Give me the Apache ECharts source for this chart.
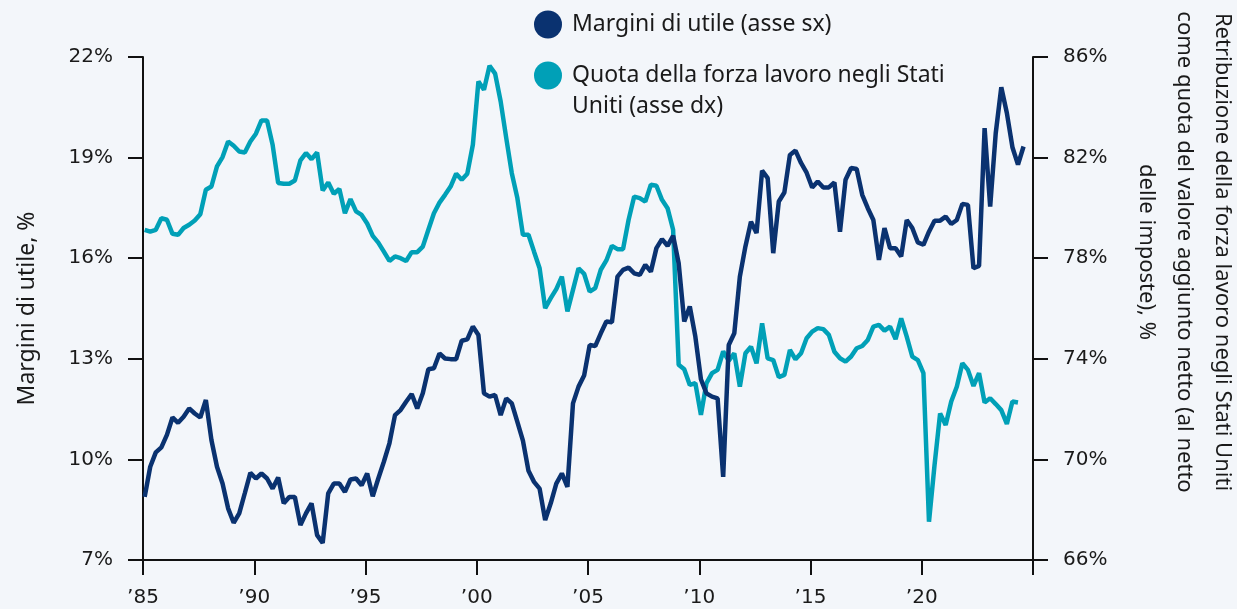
<!DOCTYPE html>
<html>
<head>
<meta charset="utf-8">
<script src="https://cdn.jsdelivr.net/npm/echarts@6/dist/echarts.min.js"></script>
<style>
  html, body { margin: 0; padding: 0; background: #f3f6fa; }
  #chart { width: 1237px; height: 609px; }
</style>
</head>
<body>
<div id="chart"></div>
<script>
// quarterly data, first point 1985 Q1
var startYear = 1985;
var xTicks = [1985, 1990, 1995, 2000, 2005, 2010, 2015, 2020, 2025];

// Margini di utile (asse sx), %
var marginValues = [
  8.88, 9.78, 10.21, 10.36,
  10.73, 11.25, 11.09, 11.27,
  11.52, 11.37, 11.25, 11.77,
  10.58, 9.78, 9.28, 8.54,
  8.11, 8.39, 8.99, 9.60,
  9.43, 9.58, 9.43, 9.13,
  9.46, 8.69, 8.88, 8.88,
  8.04, 8.39, 8.69, 7.74,
  7.51, 8.99, 9.28, 9.28,
  9.03, 9.40, 9.43, 9.23,
  9.58, 8.90, 9.43, 9.93,
  10.48, 11.32, 11.47, 11.72,
  11.95, 11.52, 11.97, 12.69,
  12.72, 13.16, 13.01, 12.99,
  12.99, 13.54, 13.58, 13.96,
  13.71, 11.97, 11.87, 11.92,
  11.32, 11.82, 11.67, 11.12,
  10.56, 9.66, 9.33, 9.13,
  8.19, 8.69, 9.28, 9.58,
  9.18, 11.67, 12.17, 12.50,
  13.41, 13.38, 13.76, 14.11,
  14.09, 15.45, 15.65, 15.72,
  15.55, 15.50, 15.80, 15.60,
  16.30, 16.57, 16.37, 16.67,
  15.85, 14.11, 14.56, 13.66,
  12.39, 11.97, 11.87, 11.82,
  9.48, 13.41, 13.76, 15.45,
  16.35, 17.09, 16.75, 18.61,
  18.39, 16.15, 17.69, 17.96,
  19.08, 19.21, 18.84, 18.55,
  18.11, 18.29, 18.11, 18.11,
  18.26, 16.79, 18.34, 18.69,
  18.66, 17.89, 17.49, 17.14,
  15.95, 16.90, 16.30, 16.30,
  16.05, 17.14, 16.90, 16.47,
  16.40, 16.79, 17.12, 17.12,
  17.24, 17.02, 17.14, 17.62,
  17.59, 15.70, 15.77, 19.88,
  17.54, 19.73, 21.10, 20.33,
  19.31, 18.79, 19.33
];

// Quota della forza lavoro negli Stati Uniti (asse dx), %
var laborValues = [
  79.13, 79.06, 79.13, 79.59,
  79.53, 78.97, 78.93, 79.20,
  79.33, 79.50, 79.75, 80.72,
  80.85, 81.65, 82.02, 82.64,
  82.47, 82.24, 82.20, 82.64,
  82.95, 83.48, 83.48, 82.51,
  80.99, 80.96, 80.96, 81.09,
  81.89, 82.18, 81.94, 82.20,
  80.69, 81.01, 80.56, 80.75,
  79.79, 80.35, 79.86, 79.72,
  79.38, 78.89, 78.62, 78.26,
  77.89, 78.07, 78.00, 77.89,
  78.24, 78.24, 78.46, 79.13,
  79.79, 80.21, 80.52, 80.85,
  81.36, 81.12, 81.36, 82.51,
  85.03, 84.70, 85.65, 85.34,
  84.23, 82.78, 81.38, 80.39,
  78.93, 78.93, 78.26, 77.60,
  76.01, 76.41, 76.77, 77.27,
  75.88, 76.74, 77.60, 77.38,
  76.67, 76.81, 77.54, 77.91,
  78.49, 78.36, 78.36, 79.53,
  80.45, 80.39, 80.25, 80.92,
  80.88, 80.32, 79.99, 79.13,
  73.76, 73.58, 72.96, 73.03,
  71.77, 73.03, 73.43, 73.56,
  74.29, 73.93, 74.22, 72.89,
  74.22, 74.48, 73.82, 75.41,
  74.02, 73.95, 73.27, 73.36,
  74.35, 73.98, 74.22, 74.82,
  75.08, 75.22, 75.18, 74.95,
  74.28, 74.02, 73.89, 74.09,
  74.42, 74.51, 74.75, 75.28,
  75.35, 75.12, 75.28, 74.78,
  75.61, 74.88, 74.09, 73.95,
  73.43, 67.52, 69.78, 71.83,
  71.37, 72.30, 72.89, 73.82,
  73.56, 72.92, 73.43, 72.26,
  72.43, 72.20, 71.96, 71.41,
  72.30, 72.26
];

var marginName = 'Margini di utile (asse sx)';
var laborName = 'Quota della forza lavoro negli Stati Uniti (asse dx)';

// points sit a little into each quarter
function toPoints(values) {
  return values.map(function (v, i) { return [startYear + (i + 0.3) / 4, v]; });
}

var navy = '#0a3270';
var teal = '#00a0b7';
var ink = '#1a1a1a';
var tickFont = 'DejaVu Sans';
var textFont = 'Noto Sans';

var chart = echarts.init(document.getElementById('chart'));

var axisLine = { show: true, onZero: false, lineStyle: { color: '#111', width: 2 } };
var axisTick = { show: true, length: 15, lineStyle: { color: '#111', width: 2 } };

var option = {
  backgroundColor: '#f3f6fa',
  animation: false,
  grid: { left: 143, right: 204, top: 57, bottom: 49 },
  legend: [
    {
      data: [marginName],
      orient: 'vertical',
      left: 534,
      top: 9,
      padding: 0,
      icon: 'circle',
      itemWidth: 38,
      itemHeight: 28,
      selectedMode: false,
      textStyle: { fontFamily: textFont, fontSize: 23, color: ink, lineHeight: 31 }
    },
    {
      data: [laborName],
      orient: 'vertical',
      left: 534,
      top: 29,
      padding: 0,
      icon: 'circle',
      itemWidth: 38,
      itemHeight: 28,
      selectedMode: false,
      formatter: function () {
        return '\u00a0\nQuota della forza lavoro negli Stati\nUniti (asse dx)';
      },
      textStyle: { fontFamily: textFont, fontSize: 23, color: ink, lineHeight: 31 }
    }
  ],
  xAxis: {
    type: 'value',
    min: xTicks[0],
    max: xTicks[xTicks.length - 1],
    interval: 5,
    axisLine: axisLine,
    axisTick: axisTick,
    splitLine: { show: false },
    axisLabel: {
      margin: 28,
      fontFamily: tickFont,
      fontSize: 20,
      color: ink,
      formatter: function (v) {
        if (v === 2025) return '';
        return '\u2019' + String(v).slice(2);
      }
    }
  },
  yAxis: [
    {
      type: 'value',
      min: 7,
      max: 22,
      interval: 3,
      position: 'left',
      axisLine: axisLine,
      axisTick: axisTick,
      splitLine: { show: false },
      axisLabel: { margin: 30, fontFamily: tickFont, fontSize: 20, color: ink, formatter: '{value}%' },
      name: 'Margini di utile, %',
      nameLocation: 'middle',
      nameRotate: 90,
      nameGap: 104,
      nameTextStyle: { fontFamily: textFont, fontSize: 23, color: ink }
    },
    {
      type: 'value',
      min: 66,
      max: 86,
      interval: 4,
      position: 'right',
      axisLine: axisLine,
      axisTick: axisTick,
      splitLine: { show: false },
      axisLabel: { margin: 30, fontFamily: tickFont, fontSize: 20, color: ink, formatter: '{value}%' }
    }
  ],
  graphic: [
    {
      type: 'text',
      x: 1184,
      y: 252,
      rotation: -Math.PI / 2,
      style: {
        text: 'Retribuzione della forza lavoro negli Stati Uniti\ncome quota del valore aggiunto netto (al netto\ndelle imposte), %',
        align: 'center',
        verticalAlign: 'middle',
        fontFamily: textFont,
        fontSize: 22,
        lineHeight: 38,
        fill: ink
      }
    }
  ],
  series: [
    {
      name: laborName,
      type: 'line',
      yAxisIndex: 1,
      data: toPoints(laborValues),
      showSymbol: false,
      color: teal,
      lineStyle: { color: teal, width: 4.5 },
      z: 2
    },
    {
      name: marginName,
      type: 'line',
      yAxisIndex: 0,
      data: toPoints(marginValues),
      showSymbol: false,
      color: navy,
      lineStyle: { color: navy, width: 4.5 },
      z: 3
    }
  ]
};

chart.setOption(option);
</script>
</body>
</html>
